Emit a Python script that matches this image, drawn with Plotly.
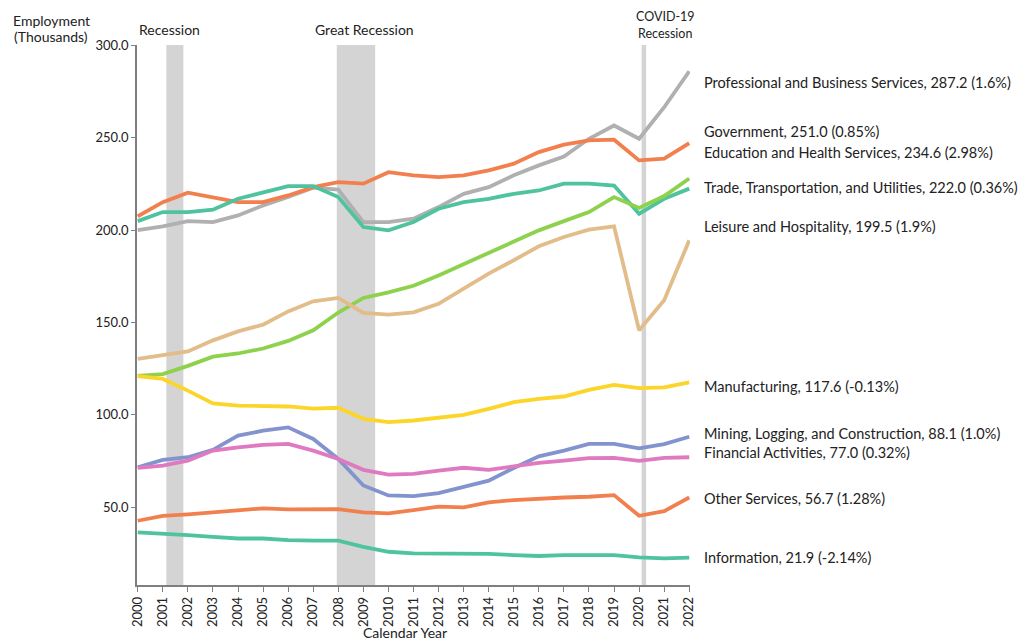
import plotly.graph_objects as go

years = list(range(2000, 2023))

professional = [200.0, 202.0, 204.9, 204.4, 208.0, 213.4, 218.0, 223.0, 222.0, 204.4, 204.4, 206.2,
                212.5, 219.7, 223.3, 229.7, 235.1, 239.9, 249.5, 256.7, 249.5, 266.6, 286.1]
government = [207.5, 215.2, 220.3, 217.9, 215.2, 215.2, 218.8, 223.3, 226.0, 225.2, 231.4, 229.7,
              228.7, 229.7, 232.4, 236.0, 242.3, 246.3, 248.6, 249.0, 237.8, 238.7, 247.1]
trade = [204.9, 209.8, 209.8, 211.1, 217.0, 220.6, 223.9, 223.9, 217.9, 201.7, 199.9, 204.4,
         211.6, 215.2, 217.0, 219.7, 221.5, 225.2, 225.2, 224.2, 208.9, 217.0, 222.5]
education = [121.1, 122.0, 126.5, 131.5, 133.2, 135.9, 140.0, 145.8, 155.4, 163.3, 166.3, 169.9,
             175.5, 181.5, 187.5, 194.0, 199.9, 204.9, 209.8, 217.9, 212.0, 218.5, 228.0]
leisure = [130.3, 132.5, 134.3, 140.3, 145.2, 148.8, 156.0, 161.5, 163.3, 155.2, 154.3, 155.5,
           160.1, 168.3, 176.5, 183.7, 191.3, 196.3, 200.3, 202.1, 145.8, 162.0, 194.5]
manufacturing = [121.0, 119.4, 113.1, 106.2, 105.0, 105.0, 104.5, 103.3, 103.8, 97.8, 96.0, 96.9,
                 98.6, 99.9, 103.2, 106.8, 108.6, 109.9, 113.5, 116.2, 114.4, 114.9, 117.6]
mining = [71.6, 75.6, 77.0, 81.0, 88.7, 91.4, 93.2, 86.9, 76.1, 61.7, 56.3, 55.9,
          57.6, 61.2, 64.3, 71.2, 77.5, 80.6, 84.2, 84.2, 81.8, 84.1, 88.1]
financial = [71.3, 72.5, 75.2, 80.6, 82.4, 83.7, 84.2, 80.6, 76.1, 70.2, 67.6, 68.0,
             69.8, 71.3, 70.2, 72.0, 74.0, 75.2, 76.5, 76.7, 75.0, 76.7, 77.0]
other_services = [42.6, 45.3, 46.1, 47.1, 48.4, 49.3, 48.8, 48.8, 48.9, 47.1, 46.6, 48.4,
                  50.2, 49.8, 52.5, 53.8, 54.7, 55.2, 55.6, 56.5, 45.3, 47.8, 55.2]
information = [36.3, 35.7, 34.8, 33.9, 33.0, 33.0, 32.1, 31.8, 31.8, 28.5, 25.8, 24.9,
               24.9, 24.9, 24.7, 24.0, 23.5, 24.0, 24.0, 24.0, 22.8, 22.2, 22.6]

series_names = ["Professional and Business Services", "Government", "Trade, Transportation, and Utilities",
                "Education and Health Services", "Leisure and Hospitality", "Manufacturing",
                "Mining, Logging, and Construction", "Financial Activities", "Other Services", "Information"]
series_values = [professional, government, trade, education, leisure, manufacturing,
                 mining, financial, other_services, information]
series_colors = ["#b0b0b0", "#f2804f", "#4fc39f", "#8ed14c", "#e2bd8a", "#fcd52a",
                 "#8393cd", "#e07ac0", "#f2804f", "#4fc39f"]

label_texts = ["Professional and Business Services, 287.2 (1.6%)",
               "Government, 251.0 (0.85%)",
               "Education and Health Services, 234.6 (2.98%)",
               "Trade, Transportation, and Utilities, 222.0 (0.36%)",
               "Leisure and Hospitality, 199.5 (1.9%)",
               "Manufacturing, 117.6 (-0.13%)",
               "Mining, Logging, and Construction, 88.1 (1.0%)",
               "Financial Activities, 77.0 (0.32%)",
               "Other Services, 56.7 (1.28%)",
               "Information, 21.9 (-2.14%)"]
label_y = [280.0, 253.5, 242.0, 223.2, 202.0, 115.5, 90.0, 79.8, 54.9, 22.9]

recession_starts = [2001.14, 2007.94, 2020.1]
recession_ends = [2001.82, 2009.47, 2020.28]
# each recession label as a list of lines (top to bottom)
recession_labels = [["Recession"], ["Great Recession"], ["COVID-19", "Recession"]]
recession_label_x = [2001.25, 2009.05, 2021.05]

y_ticks = [50, 100, 150, 200, 250, 300]

FONT = "Lato, 'Open Sans', sans-serif"
TXT = 14.5

fig = go.Figure()
for name, vals, col in zip(series_names, series_values, series_colors):
    fig.add_trace(go.Scatter(x=years, y=vals, mode="lines", name=name,
                             line=dict(color=col, width=3.8), showlegend=False))

shapes = []
annotations = []
for x0, x1, lines, lx in zip(recession_starts, recession_ends, recession_labels, recession_label_x):
    shapes.append(dict(type="rect", xref="x", yref="paper", x0=x0, x1=x1, y0=0, y1=1,
                       fillcolor="#d4d4d4", line=dict(width=0), layer="below"))
    n = len(lines)
    for i, ln in enumerate(lines):
        if n == 1:
            ys, fs = 16, 14
        else:
            ys, fs = 12 + 16.5 * (n - 1 - i), 12.5
        annotations.append(dict(text=ln, xref="x", yref="paper", x=lx, y=1.0, yshift=ys,
                                xanchor="center", yanchor="middle", showarrow=False, borderpad=0,
                                font=dict(family=FONT, size=fs, color="#222")))

for txt, yv in zip(label_texts, label_y):
    annotations.append(dict(text=txt, xref="paper", yref="y", x=1.021, y=yv, xanchor="left",
                            yanchor="middle", showarrow=False,
                            font=dict(family=FONT, size=TXT, color="#222")))

for ln, ys in [("Employment", 25), ("(Thousands)", 9)]:
    annotations.append(dict(text=ln, xref="paper", yref="paper",
                            x=-0.1555, y=1.0, yshift=ys, xanchor="center", yanchor="middle",
                            showarrow=False, borderpad=0, font=dict(family=FONT, size=14, color="#222")))
annotations.append(dict(text="Calendar Year", xref="paper", yref="paper",
                        x=0.485, y=0.0, yshift=-47, xanchor="center", yanchor="middle",
                        showarrow=False, font=dict(family=FONT, size=14, color="#222")))

# The page body has an 8px margin, so the figure is drawn 8px smaller and shifted.
fig.update_layout(
    width=1020, height=633,
    margin=dict(l=129, r=338, t=37, b=56),
    plot_bgcolor="white", paper_bgcolor="white",
    shapes=shapes, annotations=annotations,
    font=dict(family=FONT, size=12, color="#222"),
)
fig.update_xaxes(range=[1999.97, 2022.03], tickmode="array", tickvals=years,
                 ticktext=[str(y) for y in years], tickangle=-90,
                 showline=True, linecolor="#7f7f7f", linewidth=1.5,
                 ticks="outside", ticklen=5, tickcolor="#7f7f7f",
                 showgrid=False, zeroline=False,
                 tickfont=dict(family=FONT, size=13, color="#222"))
fig.update_yaxes(range=[7.8, 300.3], tickmode="array", tickvals=y_ticks,
                 ticktext=[f"{v:.1f}" for v in y_ticks],
                 showline=True, linecolor="#7f7f7f", linewidth=1.5,
                 ticks="outside", ticklen=4, tickcolor="#7f7f7f",
                 showgrid=False, zeroline=False,
                 tickfont=dict(family=FONT, size=13, color="#222"))

fig.write_html("out.html")
